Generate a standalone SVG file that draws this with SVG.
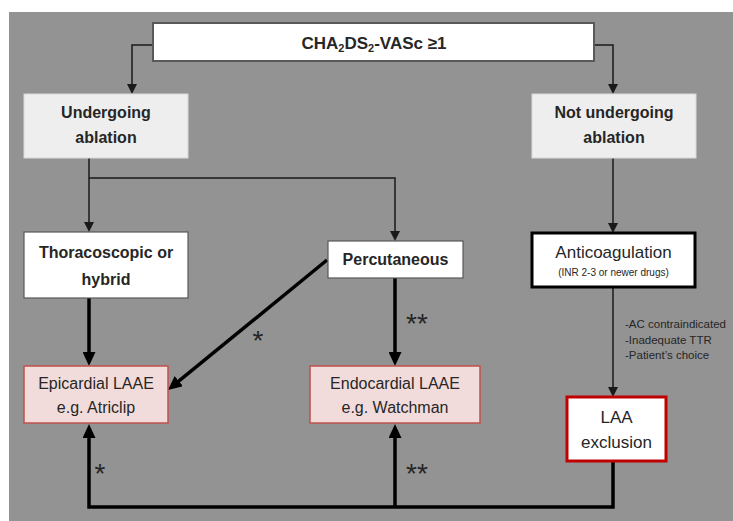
<svg xmlns="http://www.w3.org/2000/svg" width="733" height="521" viewBox="0 0 733 521">
<style>
  text { font-family: "Liberation Sans", Arial, sans-serif; fill: #262626; text-anchor: middle; }
  .b { font-weight: bold; font-size: 16px; }
  .r { font-size: 16px; }
  .small { font-size: 10px; }
  .note { font-size: 11.5px; text-anchor: start; }
  .star { font-size: 28px; }
  .thin { fill: none; stroke: #1a1a1a; stroke-width: 1.5; }
  .thick { fill: none; stroke: #000; stroke-width: 3.5; }
  .grey { fill: #eeeeee; stroke: #d9d9d9; stroke-width: 1; }
  .white { fill: #ffffff; stroke: #595959; stroke-width: 1.2; }
  .pink { fill: #f2dcdb; stroke: #c0504d; stroke-width: 1.5; }
</style>
<defs>
  <marker id="ah" markerUnits="userSpaceOnUse" markerWidth="10" markerHeight="10" refX="7" refY="5" orient="auto">
    <path d="M0,0 L10,5 L0,10 z" fill="#1a1a1a"/>
  </marker>
  <marker id="ahT" markerUnits="userSpaceOnUse" markerWidth="14" markerHeight="13" refX="8" refY="6.5" orient="auto">
    <path d="M0,0 L14,6.5 L0,13 z" fill="#000"/>
  </marker>
</defs>
<rect x="9" y="12" width="724" height="509" fill="#939393"/>

<g id="connectors">
  <path class="thin" d="M153,45 H132 V91" marker-end="url(#ah)"/>
  <path class="thin" d="M594,45 H613 V91" marker-end="url(#ah)"/>
  <path class="thin" d="M89,158 V229" marker-end="url(#ah)"/>
  <path class="thin" d="M89,178 H395 V238" marker-end="url(#ah)"/>
  <path class="thin" d="M613,158 V230" marker-end="url(#ah)"/>
  <path class="thin" d="M613,287 V394" marker-end="url(#ah)"/>
  <path class="thick" d="M89,298 V360" marker-end="url(#ahT)"/>
  <path class="thick" d="M395,278 V360" marker-end="url(#ahT)"/>
  <path class="thick" d="M327,260 L172.6,386.2" marker-end="url(#ahT)"/>
  <path class="thick" d="M613,461 V507 H89 V430" marker-end="url(#ahT)"/>
  <path class="thick" d="M395,507 V430" marker-end="url(#ahT)"/>
  <text class="star" x="258" y="350">*</text>
  <text class="star" x="417" y="333">**</text>
  <text class="star" x="100" y="483">*</text>
  <text class="star" x="417" y="483">**</text>
  <text class="note" x="625" y="328">-AC contraindicated</text>
  <text class="note" x="625" y="344">-Inadequate TTR</text>
  <text class="note" x="625" y="359">-Patient’s choice</text>
</g>

<g id="n-top">
  <rect x="153" y="23" width="441" height="38" fill="#fff" stroke="#595959" stroke-width="2"/>
  <text class="b" x="374" y="49" style="font-size:17px">CHA<tspan font-size="11" dy="3">2</tspan><tspan dy="-3">DS</tspan><tspan font-size="11" dy="3">2</tspan><tspan dy="-3">-VASc ≥1</tspan></text>
</g>
<g id="n-undergoing">
  <rect class="grey" x="24" y="94" width="164" height="64"/>
  <text class="b" x="106" y="118">Undergoing</text>
  <text class="b" x="106" y="143">ablation</text>
</g>
<g id="n-not-undergoing">
  <rect class="grey" x="532" y="94" width="164" height="64"/>
  <text class="b" x="614" y="118">Not undergoing</text>
  <text class="b" x="614" y="143">ablation</text>
</g>
<g id="n-thoracoscopic">
  <rect class="white" x="24" y="232" width="164" height="66"/>
  <text class="b" x="106" y="258">Thoracoscopic or</text>
  <text class="b" x="106" y="285">hybrid</text>
</g>
<g id="n-percutaneous">
  <rect class="white" x="328" y="241" width="135" height="37"/>
  <text class="b" x="395.5" y="265">Percutaneous</text>
</g>
<g id="n-anticoagulation">
  <rect x="532" y="233" width="163" height="54" fill="#fff" stroke="#000" stroke-width="3"/>
  <text class="r" x="613.5" y="258" style="font-size:17px">Anticoagulation</text>
  <text class="small" x="613.5" y="276">(INR 2-3 or newer drugs)</text>
</g>
<g id="n-epicardial">
  <rect class="pink" x="24" y="366" width="144" height="57"/>
  <text class="r" x="96" y="389">Epicardial LAAE</text>
  <text class="r" x="96" y="413">e.g. Atriclip</text>
</g>
<g id="n-endocardial">
  <rect class="pink" x="310" y="366" width="170" height="57"/>
  <text class="r" x="395" y="389">Endocardial LAAE</text>
  <text class="r" x="395" y="413">e.g. Watchman</text>
</g>
<g id="n-laa">
  <rect x="567" y="397" width="99" height="64" fill="#fff" stroke="#c00000" stroke-width="3"/>
  <text class="r" x="616.5" y="423" style="font-size:17px">LAA</text>
  <text class="r" x="616.5" y="448" style="font-size:17px">exclusion</text>
</g>
</svg>
